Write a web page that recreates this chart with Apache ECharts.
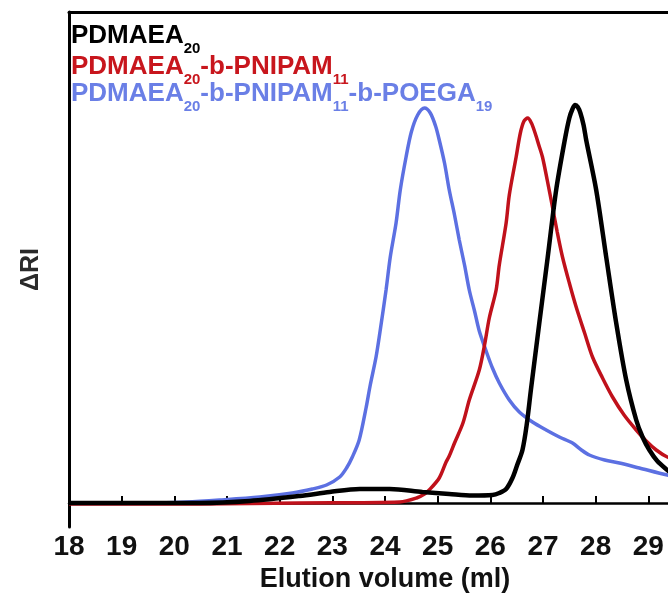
<!DOCTYPE html>
<html>
<head>
<meta charset="utf-8">
<script src="https://cdn.jsdelivr.net/npm/echarts@6/dist/echarts.min.js"></script>
<style>
  html, body { margin: 0; padding: 0; background: #fff; }
  #chart { width: 668px; height: 600px; }
</style>
</head>
<body>
<div id="chart"></div>
<script>
// elution volume (ml) and ΔRI (arbitrary units, baseline = 0)
const blackX = [18.0, 19.53, 20.48, 21.43, 22.38, 22.95, 23.52, 24.09, 24.71, 25.22, 25.66, 26.04, 26.17, 26.30, 26.42, 26.51, 26.61, 26.69, 26.77, 26.93, 27.09, 27.25, 27.41, 27.50, 27.56, 27.61, 27.66, 27.71, 27.77, 27.82, 28.01, 28.20, 28.39, 28.58, 28.77, 28.89, 29.02, 29.17, 29.36, 29.59, 29.97];
const blackY = [0, 0, 0, 2, 7, 11, 14, 14, 11, 9, 7.5, 8, 10, 14, 25, 38, 53, 78, 113, 180, 246, 313, 362, 385, 394, 398, 396, 390, 378, 363, 313, 246, 180, 123, 83, 66, 53, 42, 33, 23, 13];

const redX = [18.0, 20.48, 22.38, 24.28, 24.60, 24.75, 24.84, 25.03, 25.16, 25.22, 25.32, 25.48, 25.60, 25.79, 25.89, 25.98, 26.11, 26.17, 26.30, 26.36, 26.49, 26.57, 26.64, 26.71, 26.78, 26.85, 26.92, 26.99, 27.08, 27.18, 27.27, 27.37, 27.50, 27.63, 27.79, 27.94, 28.13, 28.32, 28.54, 28.77, 28.96, 29.15, 29.36, 29.97];
const redY = [-1, -1, 0, 1, 5, 9, 13, 25, 41, 47, 60, 80, 103, 133, 158, 185, 213, 238, 280, 308, 346, 370, 382, 385, 380, 370, 358, 346, 323, 296, 271, 246, 220, 196, 170, 146, 125, 106, 88, 73, 62, 53, 46, 33];

const blueX = [18.0, 19.53, 20.23, 20.86, 21.62, 22.24, 22.62, 22.89, 23.14, 23.27, 23.38, 23.51, 23.64, 23.72, 23.83, 23.91, 24.02, 24.10, 24.21, 24.29, 24.40, 24.50, 24.62, 24.75, 24.86, 24.96, 25.03, 25.13, 25.22, 25.32, 25.41, 25.51, 25.60, 25.70, 25.79, 25.92, 26.04, 26.17, 26.36, 26.55, 26.80, 27.06, 27.31, 27.56, 27.73, 27.88, 28.17, 28.45, 28.83, 29.36, 29.97];
const blueY = [0, 0, 1, 3, 6, 10, 14, 18, 26, 35, 46, 63, 95, 118, 146, 173, 213, 246, 280, 313, 346, 371, 388, 395, 390, 377, 363, 340, 313, 288, 263, 238, 213, 192, 172, 152, 135, 120, 103, 91, 81, 73, 66, 60, 53, 48, 43, 40, 35, 28, 23];

const seriesNames = ['PDMAEA20', 'PDMAEA20-b-PNIPAM11', 'PDMAEA20-b-PNIPAM11-b-POEGA19'];
const seriesColors = ['#000000', '#c0111b', '#5c70e2'];

const pairs = (xs, ys) => xs.map((x, i) => [x, ys[i]]);

const chart = echarts.init(document.getElementById('chart'), null, { renderer: 'canvas' });

const FONT = '"Liberation Sans", Arial, sans-serif';

// legend lines drawn as rich text so subscripts sit below the baseline
const mainStyle = (color) => ({ fontSize: 26, fontWeight: 'bold', fontFamily: FONT, fill: color });
const subStyle = (color) => ({ fontSize: 15, fontWeight: 'bold', fontFamily: FONT, fill: color, padding: [26, 0, 0, 0] });
const legendLine = (top, text, color) => ({
  type: 'text',
  left: 71,
  top,
  z: 100,
  style: {
    text,
    fill: color,
    rich: { m: mainStyle(color), s: subStyle(color) }
  }
});

const option = {
  animation: false,
  backgroundColor: '#fff',
  grid: { left: 69, top: 12, bottom: 73, width: 632, outerBoundsMode: 'none', containLabel: false },
  xAxis: [
    {
      type: 'value',
      min: 18,
      max: 30,
      interval: 1,
      name: 'Elution volume (ml)',
      nameLocation: 'middle',
      nameGap: 39,
      nameTextStyle: { fontSize: 27, fontWeight: 'bold', fontFamily: FONT, color: '#111' },
      axisLine: { show: true, lineStyle: { color: '#000', width: 2.5 } },
      axisTick: { show: true, inside: true, length: 7, lineStyle: { color: '#000', width: 2 } },
      axisLabel: { fontSize: 28, fontWeight: 'bold', fontFamily: FONT, color: '#111', margin: 6 },
      splitLine: { show: false }
    },
    {
      type: 'value',
      position: 'top',
      min: 18,
      max: 30,
      axisLine: { show: true, onZero: false, lineStyle: { color: '#000', width: 3 } },
      axisTick: { show: false },
      axisLabel: { show: false },
      splitLine: { show: false }
    }
  ],
  yAxis: {
    type: 'value',
    min: -24,
    max: 491,
    name: 'ΔRI',
    nameLocation: 'middle',
    nameGap: 25,
    nameTextStyle: { fontSize: 25, fontWeight: 'bold', fontFamily: FONT, color: '#2a2a2a' },
    axisLine: { show: true, onZero: false, lineStyle: { color: '#000', width: 3 } },
    axisTick: { show: false },
    axisLabel: { show: false },
    splitLine: { show: false }
  },
  series: [
    {
      name: seriesNames[2], type: 'line', smooth: 0.3, showSymbol: false,
      lineStyle: { color: seriesColors[2], width: 3.5 }, z: 2,
      data: pairs(blueX, blueY)
    },
    {
      name: seriesNames[1], type: 'line', smooth: 0.3, showSymbol: false,
      lineStyle: { color: seriesColors[1], width: 3.5 }, z: 3,
      data: pairs(redX, redY)
    },
    {
      name: seriesNames[0], type: 'line', smooth: 0.3, showSymbol: false,
      lineStyle: { color: seriesColors[0], width: 4.5 }, z: 4,
      data: pairs(blackX, blackY)
    }
  ],
  graphic: [
    legendLine(23, '{m|PDMAEA}{s|20}', '#000000'),
    legendLine(54, '{m|PDMAEA}{s|20}{m|-b-PNIPAM}{s|11}', '#c8161d'),
    legendLine(81, '{m|PDMAEA}{s|20}{m|-b-PNIPAM}{s|11}{m|-b-POEGA}{s|19}', '#6a7fe6')
  ]
};

chart.setOption(option);
</script>
</body>
</html>
